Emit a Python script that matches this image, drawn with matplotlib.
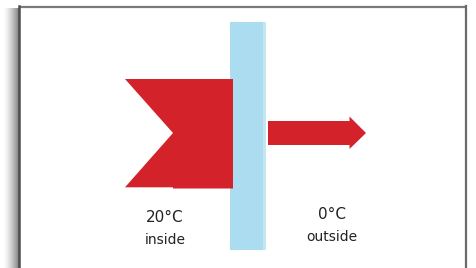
# Heat flow through a window pane: warm inside, cold outside
import numpy as np
import matplotlib.pyplot as plt
from matplotlib.patches import Polygon, Rectangle

# data
temps = [20, 0]
places = ["inside", "outside"]
label_x = [165, 332]

RED = "#d32229"
GLASS = "#acdcef"

fig = plt.figure(figsize=(4.77, 2.68), dpi=100)
ax = fig.add_axes([0, 0, 1, 1])
ax.set_xlim(0, 477)
ax.set_ylim(268, 0)
ax.axis("off")

# shadow on the left of the frame (white -> gray)
t = np.linspace(0, 1, 64) ** 1.5
shade = 1 - 0.5 * t
img = np.dstack([shade, shade, shade]).reshape(1, -1, 3)
ax.imshow(img, extent=(3, 18.5, 268, 8), aspect="auto", zorder=1,
          interpolation="bilinear")

# frame (no bottom edge)
ax.plot([19, 466.5], [6.5, 6.5], color="#7a7a7a", lw=1.6, zorder=3,
        solid_capstyle="butt")
ax.plot([19, 19], [6, 268], color="#4d4d4d", lw=1.8, zorder=3)
ax.plot([466.5, 466.5], [6, 268], color="#6a6a6a", lw=1.6, zorder=3)

# glass pane
ax.add_patch(Rectangle((230, 22), 36, 228, facecolor=GLASS, edgecolor="none",
                       zorder=2))
ax.add_patch(Rectangle((263, 22), 3, 228, facecolor="#c3e7f0", edgecolor="none",
                       zorder=2))

# big incoming heat arrow (notched)
big = [(125, 79), (233, 79), (233, 188.5), (173, 188.5), (173, 187.3),
       (125, 187.3), (173, 133)]
ax.add_patch(Polygon(big, closed=True, facecolor=RED, edgecolor="none",
                     zorder=4))

# small outgoing heat arrow
small = [(268, 121), (349.5, 121), (349.5, 116.5), (366, 133),
         (349.5, 149), (349.5, 145), (268, 145)]
ax.add_patch(Polygon(small, closed=True, facecolor=RED, edgecolor="none",
                     zorder=4))

# labels
for x, t, p, dy in zip(label_x, temps, places, [0, -3.5]):
    ax.text(x, 218 + dy, f"{t}\u00b0C", ha="center", va="center",
            fontsize=11, color="#222222", zorder=5)
    ax.text(x, 240.5 + dy, p, ha="center", va="center",
            fontsize=10, color="#222222", zorder=5)

fig.savefig("out.png", dpi=100)
